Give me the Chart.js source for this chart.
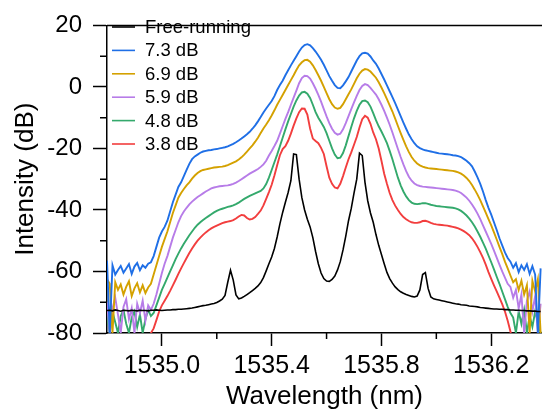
<!DOCTYPE html>
<html>
<head>
<meta charset="utf-8">
<script src="https://cdn.jsdelivr.net/npm/chart.js@4.4.1/dist/chart.umd.min.js"></script>
<style>
html, body { margin: 0; padding: 0; background: #fff; }
#wrap { width: 542px; height: 411px; }
</style>
</head>
<body>
<div id="wrap"><canvas id="spectrumChart" width="542" height="411"></canvas></div>
<script>
// wavelength grid (nm)
const wavelength = [
  1534.80,1534.81,1534.82,1534.83,1534.84,1534.85,1534.86,1534.87,1534.88,1534.89,
  1534.90,1534.91,1534.92,1534.93,1534.94,1534.95,1534.96,1534.97,1534.98,1534.99,
  1535.00,1535.01,1535.02,1535.03,1535.04,1535.05,1535.06,1535.07,1535.08,1535.09,
  1535.10,1535.11,1535.12,1535.13,1535.14,1535.15,1535.16,1535.17,1535.18,1535.19,
  1535.20,1535.21,1535.22,1535.23,1535.24,1535.25,1535.26,1535.27,1535.28,1535.29,
  1535.30,1535.31,1535.32,1535.33,1535.34,1535.35,1535.36,1535.37,1535.38,1535.39,
  1535.40,1535.41,1535.42,1535.43,1535.44,1535.45,1535.46,1535.47,1535.48,1535.49,
  1535.50,1535.51,1535.52,1535.53,1535.54,1535.55,1535.56,1535.57,1535.58,1535.59,
  1535.60,1535.61,1535.62,1535.63,1535.64,1535.65,1535.66,1535.67,1535.68,1535.69,
  1535.70,1535.71,1535.72,1535.73,1535.74,1535.75,1535.76,1535.77,1535.78,1535.79,
  1535.80,1535.81,1535.82,1535.83,1535.84,1535.85,1535.86,1535.87,1535.88,1535.89,
  1535.90,1535.91,1535.92,1535.93,1535.94,1535.95,1535.96,1535.97,1535.98,1535.99,
  1536.00,1536.01,1536.02,1536.03,1536.04,1536.05,1536.06,1536.07,1536.08,1536.09,
  1536.10,1536.11,1536.12,1536.13,1536.14,1536.15,1536.16,1536.17,1536.18,1536.19,
  1536.20,1536.21,1536.22,1536.23,1536.24,1536.25,1536.26,1536.27,1536.28,1536.29,
  1536.30,1536.31,1536.32,1536.33,1536.34,1536.35,1536.36,1536.37,1536.38
];

// intensity (dB) for each curve
const freeRunning = [
  -72.7,-72.6,-72.8,-72.5,-72.7,-72.9,-72.6,-72.7,-72.8,-72.6,
  -72.7,-72.8,-72.6,-72.7,-72.7,-72.8,-72.6,-72.6,-72.5,-72.6,
  -72.7,-72.6,-72.5,-72.5,-72.4,-72.4,-72.3,-72.3,-72.2,-72.1,
  -72.0,-71.9,-71.7,-71.5,-71.3,-71.1,-71.0,-70.8,-70.6,-70.4,
  -70.1,-69.6,-69.0,-67.8,-63.5,-59.6,-62.8,-67.6,-68.9,-68.6,
  -68.1,-67.5,-66.9,-66.2,-65.5,-64.7,-63.6,-62.0,-59.8,-57.5,
  -55.3,-52.5,-48.8,-44.5,-40.8,-37.5,-34.3,-30.5,-21.8,-22.0,
  -30.0,-36.0,-40.0,-43.0,-45.5,-49.0,-53.5,-57.5,-60.5,-62.3,
  -63.1,-63.2,-62.6,-61.5,-59.5,-56.8,-53.0,-48.5,-43.5,-39.5,
  -34.5,-30.0,-21.5,-22.3,-31.0,-37.0,-41.0,-44.0,-48.0,-51.5,
  -54.5,-57.5,-60.3,-62.3,-63.8,-65.0,-65.9,-66.6,-67.1,-67.5,
  -67.8,-68.1,-68.3,-68.0,-66.0,-61.0,-60.4,-65.5,-68.3,-68.9,
  -69.1,-69.3,-69.5,-69.7,-69.9,-70.1,-70.3,-70.5,-70.6,-70.8,
  -70.9,-71.0,-71.2,-71.3,-71.4,-71.5,-71.7,-71.8,-71.9,-72.0,
  -72.1,-72.2,-72.2,-72.3,-72.3,-72.4,-72.4,-72.5,-72.5,-72.6,
  -72.6,-72.7,-72.7,-72.8,-72.8,-72.9,-72.9,-73.0,-73.0
];
const inj73 = [
  -56.5,-80,-58.0,-61.0,-59.5,-58.2,-60.4,-59.0,-57.6,-60.8,
  -58.4,-57.2,-59.6,-58.0,-58.8,-57.5,-57.0,-55.0,-52.0,-49.0,
  -47.0,-45.5,-43.5,-40.5,-37.5,-35.0,-32.5,-31.0,-29.0,-27.0,
  -25.0,-23.5,-22.6,-22.0,-21.4,-21.0,-20.8,-20.6,-20.5,-20.3,
  -20.2,-20.0,-19.8,-19.6,-19.3,-18.9,-18.5,-18.0,-17.4,-16.8,
  -16.1,-15.4,-14.6,-13.6,-12.5,-11.2,-9.8,-8.3,-7.0,-5.8,
  -4.6,-3.0,-1.0,0.6,2.0,3.8,5.4,7.0,8.5,10.0,
  11.5,12.8,13.6,13.9,13.5,12.6,11.5,10.2,8.8,7.2,
  5.4,3.5,2.0,0.6,-0.3,-0.4,0.5,1.8,3.2,5.0,
  6.8,8.6,10.0,10.9,11.1,10.8,9.9,8.6,7.5,6.0,
  4.2,2.4,0.5,-1.4,-3.3,-5.3,-7.4,-9.5,-11.6,-13.6,
  -15.5,-17.0,-18.3,-19.3,-19.9,-20.3,-20.6,-20.8,-21.0,-21.2,
  -21.4,-21.6,-21.7,-21.8,-21.9,-22.0,-22.2,-22.3,-22.5,-22.8,
  -23.4,-24.0,-24.8,-25.8,-27.5,-29.4,-31.5,-34.0,-36.8,-39.3,
  -41.5,-44.0,-46.5,-49.2,-51.5,-53.8,-55.6,-56.8,-58.8,-57.3,
  -60.2,-58.0,-59.5,-57.6,-60.8,-58.3,-61.0,-80,-59.0
];
const inj69 = [
  -62.5,-64.0,-80,-63.5,-66.0,-64.2,-67.5,-65.0,-63.2,-68.0,
  -65.5,-63.8,-66.8,-64.5,-67.0,-65.2,-64.0,-61.0,-58.0,-55.0,
  -52.0,-49.5,-47.0,-44.0,-41.0,-38.5,-36.0,-34.5,-33.2,-32.0,
  -31.0,-29.8,-28.8,-28.0,-27.4,-27.0,-26.8,-26.6,-26.4,-26.2,
  -26.1,-26.0,-25.9,-25.7,-25.4,-25.0,-24.6,-24.2,-23.6,-22.9,
  -22.0,-21.0,-20.0,-19.0,-17.8,-16.5,-15.0,-13.5,-12.2,-10.8,
  -9.3,-7.6,-5.8,-4.2,-2.6,-1.0,0.6,2.2,3.8,5.5,
  7.0,8.0,8.7,8.8,8.2,7.0,5.5,3.8,2.0,0.0,
  -2.0,-4.0,-5.6,-6.7,-7.1,-6.8,-5.6,-4.0,-2.4,-0.8,
  1.0,2.8,4.3,5.3,5.8,5.6,5.0,4.0,3.0,1.5,
  -0.2,-2.0,-4.0,-6.0,-8.0,-10.3,-12.7,-15.0,-17.2,-19.3,
  -21.2,-22.8,-24.0,-24.9,-25.5,-25.9,-26.2,-26.4,-26.5,-26.6,
  -26.7,-26.8,-26.9,-27.0,-27.1,-27.2,-27.3,-27.5,-27.8,-28.2,
  -28.8,-29.6,-30.6,-31.9,-33.4,-35.0,-36.8,-38.8,-40.9,-43.0,
  -45.0,-47.3,-49.6,-52.0,-54.3,-56.8,-59.0,-61.3,-63.5,-62.5,
  -66.0,-63.0,-67.5,-64.5,-80,-63.0,-66.5,-62.5,-80
];
const inj59 = [
  -70.0,-80,-72.0,-68.5,-74.0,-80,-71.5,-69.0,-75.5,-72.0,
  -80,-70.5,-73.5,-69.5,-76.0,-71.0,-72.5,-70.5,-67.5,-64.0,
  -60.5,-57.5,-55.0,-52.0,-49.0,-46.5,-44.0,-42.0,-40.5,-39.3,
  -38.2,-37.3,-36.5,-35.8,-35.2,-34.6,-34.0,-33.5,-33.0,-32.7,
  -32.5,-32.3,-32.2,-32.1,-32.0,-31.8,-31.5,-31.1,-30.6,-30.0,
  -29.4,-28.8,-28.2,-27.7,-27.2,-26.7,-26.0,-25.2,-24.0,-22.3,
  -20.8,-19.2,-17.5,-15.2,-12.8,-10.4,-8.2,-5.8,-3.5,-1.2,
  1.2,2.9,3.6,3.5,2.7,1.2,-0.6,-2.6,-4.8,-7.2,
  -9.6,-11.8,-13.6,-14.9,-15.5,-15.2,-13.8,-11.8,-9.5,-7.2,
  -5.0,-2.9,-1.0,0.3,0.9,0.6,-0.3,-1.4,-2.5,-4.0,
  -5.8,-7.8,-10.0,-12.3,-14.8,-17.5,-20.2,-22.8,-25.2,-27.4,
  -29.2,-30.5,-31.4,-31.9,-32.2,-32.4,-32.5,-32.6,-32.7,-32.8,
  -32.9,-33.0,-33.1,-33.2,-33.3,-33.4,-33.5,-33.7,-34.0,-34.5,
  -35.2,-36.0,-37.0,-38.2,-39.6,-41.2,-43.0,-45.0,-47.0,-49.0,
  -51.0,-53.2,-55.5,-57.8,-60.0,-62.0,-64.0,-65.0,-68.5,-66.0,
  -72.0,-67.5,-80,-69.5,-66.5,-73.0,-68.0,-80,-70.5
];
const inj48 = [
  -74.0,-80,-73.0,-76.5,-80,-74.5,-72.5,-77.0,-80,-75.0,
  -73.0,-78.0,-74.0,-80,-75.5,-72.5,-74.5,-73.5,-71.0,-68.5,
  -66.0,-64.0,-62.0,-60.0,-58.0,-56.0,-54.2,-52.5,-51.0,-49.6,
  -48.2,-47.0,-45.8,-44.8,-44.0,-43.3,-42.6,-42.0,-41.4,-40.8,
  -40.3,-39.9,-39.6,-39.3,-39.0,-38.8,-38.5,-38.1,-37.6,-37.0,
  -36.4,-35.9,-35.4,-35.0,-34.6,-34.2,-33.8,-33.0,-31.6,-29.5,
  -27.0,-24.5,-22.0,-19.3,-16.5,-13.8,-11.2,-8.8,-6.4,-4.4,
  -2.8,-1.8,-1.6,-2.2,-3.6,-5.8,-8.2,-10.0,-11.5,-13.0,
  -15.0,-17.5,-20.0,-22.0,-23.2,-23.0,-21.5,-19.0,-16.0,-13.0,
  -10.2,-7.8,-5.8,-4.6,-4.4,-5.0,-6.4,-8.5,-10.8,-12.8,
  -14.5,-16.3,-18.3,-20.8,-23.5,-26.5,-29.5,-32.0,-34.0,-35.6,
  -36.8,-37.6,-38.0,-38.1,-38.0,-37.8,-37.8,-38.0,-38.3,-38.5,
  -38.7,-38.8,-38.9,-39.0,-39.1,-39.2,-39.3,-39.5,-39.8,-40.3,
  -41.0,-41.8,-42.8,-44.0,-45.4,-47.0,-48.7,-50.6,-52.6,-54.8,
  -57.0,-59.3,-61.7,-64.0,-66.5,-69.0,-71.5,-73.5,-75.0,-80,
  -73.0,-77.0,-72.5,-80,-74.5,-78.0,-73.0,-76.5,-80
];
const inj38 = [
  -85,-85,-85,-85,-85,-85,-85,-85,-85,-85,
  -85,-85,-85,-85,-85,-85,-80,-78.5,-75.8,-73.0,
  -71.0,-69.5,-68.0,-66.3,-64.5,-62.7,-60.8,-59.0,-57.3,-55.6,
  -54.0,-52.5,-51.2,-50.0,-49.0,-48.1,-47.3,-46.6,-46.0,-45.5,
  -45.1,-44.7,-44.3,-44.0,-43.8,-43.6,-43.3,-42.8,-42.1,-41.6,
  -41.8,-42.6,-43.1,-42.9,-42.3,-41.3,-40.2,-38.5,-36.4,-34.2,
  -31.8,-28.8,-25.5,-22.2,-20.2,-19.3,-17.5,-15.2,-12.6,-10.2,
  -8.2,-7.0,-7.1,-9.0,-13.5,-16.8,-17.6,-18.3,-19.8,-21.8,
  -25.8,-29.5,-31.5,-32.7,-33.0,-31.5,-29.0,-26.2,-23.5,-21.3,
  -18.8,-16.3,-13.2,-10.5,-9.4,-10.0,-12.0,-14.8,-17.0,-20.0,
  -24.0,-28.2,-31.5,-34.5,-36.8,-38.6,-40.0,-41.3,-42.3,-43.0,
  -43.6,-44.0,-44.2,-44.2,-44.0,-43.6,-43.5,-43.8,-44.2,-44.5,
  -44.7,-44.8,-44.9,-45.0,-45.1,-45.3,-45.5,-45.7,-46.0,-46.4,
  -46.9,-47.5,-48.2,-49.2,-50.5,-52.0,-53.7,-55.6,-57.8,-60.2,
  -62.4,-64.5,-66.5,-68.5,-70.6,-73.0,-76.0,-79.5,-85,-85,
  -85,-85,-85,-85,-85,-85,-85,-85,-85
];

const seriesNames = ['Free-running', '7.3 dB', '6.9 dB', '5.9 dB', '4.8 dB', '3.8 dB'];
const seriesValues = [freeRunning, inj73, inj69, inj59, inj48, inj38];
const seriesColors = ['#000000', '#1f6fe6', '#d4a100', '#b77ce8', '#34a96c', '#f23e3e'];

const xMajorTicks = [1535.0, 1535.4, 1535.8, 1536.2];
const xMinorTicks = [1535.2, 1535.6, 1536.0];
const yMinorTicks = [-70, -50, -30, -10, 10];

const FONT = '"Liberation Sans", Arial, Helvetica, sans-serif';

// top frame line, minor ticks and the in-plot legend
const axisExtras = {
  id: 'axisExtras',
  afterDraw(chart) {
    const { ctx, chartArea: a, scales: { x, y } } = chart;
    ctx.save();
    ctx.strokeStyle = '#000';
    ctx.lineWidth = 1.5;
    ctx.beginPath();
    ctx.moveTo(a.left, a.top);
    ctx.lineTo(a.right, a.top);
    yMinorTicks.forEach(v => {
      const py = y.getPixelForValue(v);
      ctx.moveTo(a.left - 7, py);
      ctx.lineTo(a.left, py);
    });
    xMinorTicks.forEach(v => {
      const px = x.getPixelForValue(v);
      ctx.moveTo(px, a.bottom);
      ctx.lineTo(px, a.bottom + 6);
    });
    ctx.stroke();

    ctx.font = '18.5px ' + FONT;
    ctx.textBaseline = 'middle';
    ctx.textAlign = 'left';
    chart.data.datasets.forEach((ds, i) => {
      const ly = 27 + i * 23.4;
      ctx.strokeStyle = ds.borderColor;
      ctx.lineWidth = 1.6;
      ctx.beginPath();
      ctx.moveTo(112, ly);
      ctx.lineTo(135, ly);
      ctx.stroke();
      ctx.fillStyle = '#000';
      ctx.fillText(ds.label, 145, ly + 1);
    });
    ctx.restore();
  }
};

const ctx = document.getElementById('spectrumChart');
new Chart(ctx, {
  type: 'line',
  data: {
    datasets: seriesValues.map((vals, i) => ({
      label: seriesNames[i],
      data: vals.map((v, k) => ({ x: wavelength[k], y: v })),
      borderColor: seriesColors[i],
      borderWidth: i === 0 ? 1.6 : 1.9,
      pointRadius: 0,
      fill: false,
      tension: 0
    }))
  },
  options: {
    responsive: false,
    animation: false,
    devicePixelRatio: 1,
    layout: { padding: { top: 18, right: 0, left: 0, bottom: 0 } },
    plugins: { legend: { display: false }, tooltip: { enabled: false } },
    scales: {
      x: {
        type: 'linear',
        min: 1534.8,
        max: 1536.385,
        afterBuildTicks: s => { s.ticks = xMajorTicks.map(v => ({ value: v })); },
        afterFit: s => { s.height = 78; },
        border: { color: '#000', width: 1.5 },
        grid: { drawOnChartArea: false, tickLength: 13, color: '#000', tickWidth: 1.5 },
        ticks: {
          autoSkip: false, maxRotation: 0, padding: 5, color: '#000',
          font: { family: FONT, size: 25 },
          callback: v => Number(v).toFixed(1)
        },
        title: {
          display: true, text: 'Wavelength (nm)', color: '#000',
          font: { family: FONT, size: 26, lineHeight: 1 },
          padding: { top: 0, bottom: 1 }
        }
      },
      y: {
        min: -80,
        max: 20,
        afterFit: s => { s.width = 107; },
        border: { color: '#000', width: 1.5 },
        grid: { drawOnChartArea: false, tickLength: 14, color: '#000', tickWidth: 1.5 },
        ticks: {
          stepSize: 20, padding: 11, color: '#000',
          font: { family: FONT, size: 24 }
        },
        title: {
          display: true, text: 'Intensity (dB)', color: '#000',
          font: { family: FONT, size: 26, lineHeight: 1 },
          padding: { top: 13, bottom: 0 }
        }
      }
    }
  },
  plugins: [axisExtras]
});
</script>
</body>
</html>
